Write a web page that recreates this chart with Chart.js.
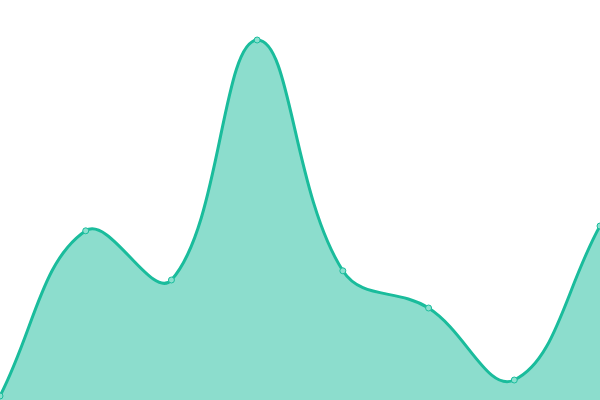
<!DOCTYPE html>
<html>
<head>
<meta charset="utf-8">
<script src="https://cdn.jsdelivr.net/npm/chart.js@4"></script>
<style>
  html, body { margin: 0; padding: 0; background: #fff; }
  #wrap { width: 600px; height: 400px; }
</style>
</head>
<body>
<div id="wrap"><canvas id="chart"></canvas></div>
<script>
// data (scale 0..100)
const labels = ['1', '2', '3', '4', '5', '6', '7', '8'];
const values = [1, 42.3, 30, 90, 32.3, 23, 5, 43.5];

new Chart(document.getElementById('chart'), {
    type: 'line',
    data: {
        labels: labels,
        datasets: [{
            data: values,
            borderColor: '#1abc9c',
            backgroundColor: 'rgba(26,188,156,0.5)',
            borderWidth: 3,
            fill: true,
            tension: 0.4,
            pointRadius: 3,
            pointBorderWidth: 1,
            pointBackgroundColor: '#8be0cf',
            pointBorderColor: '#1abc9c'
        }]
    },
    options: {
        responsive: true,
        maintainAspectRatio: false,
        animation: false,
        layout: { padding: 0, autoPadding: false },
        plugins: { legend: { display: false }, tooltip: { enabled: false } },
        scales: {
            x: { display: false },
            y: { display: false, min: 0, max: 100 }
        }
    }
});
</script>
</body>
</html>
